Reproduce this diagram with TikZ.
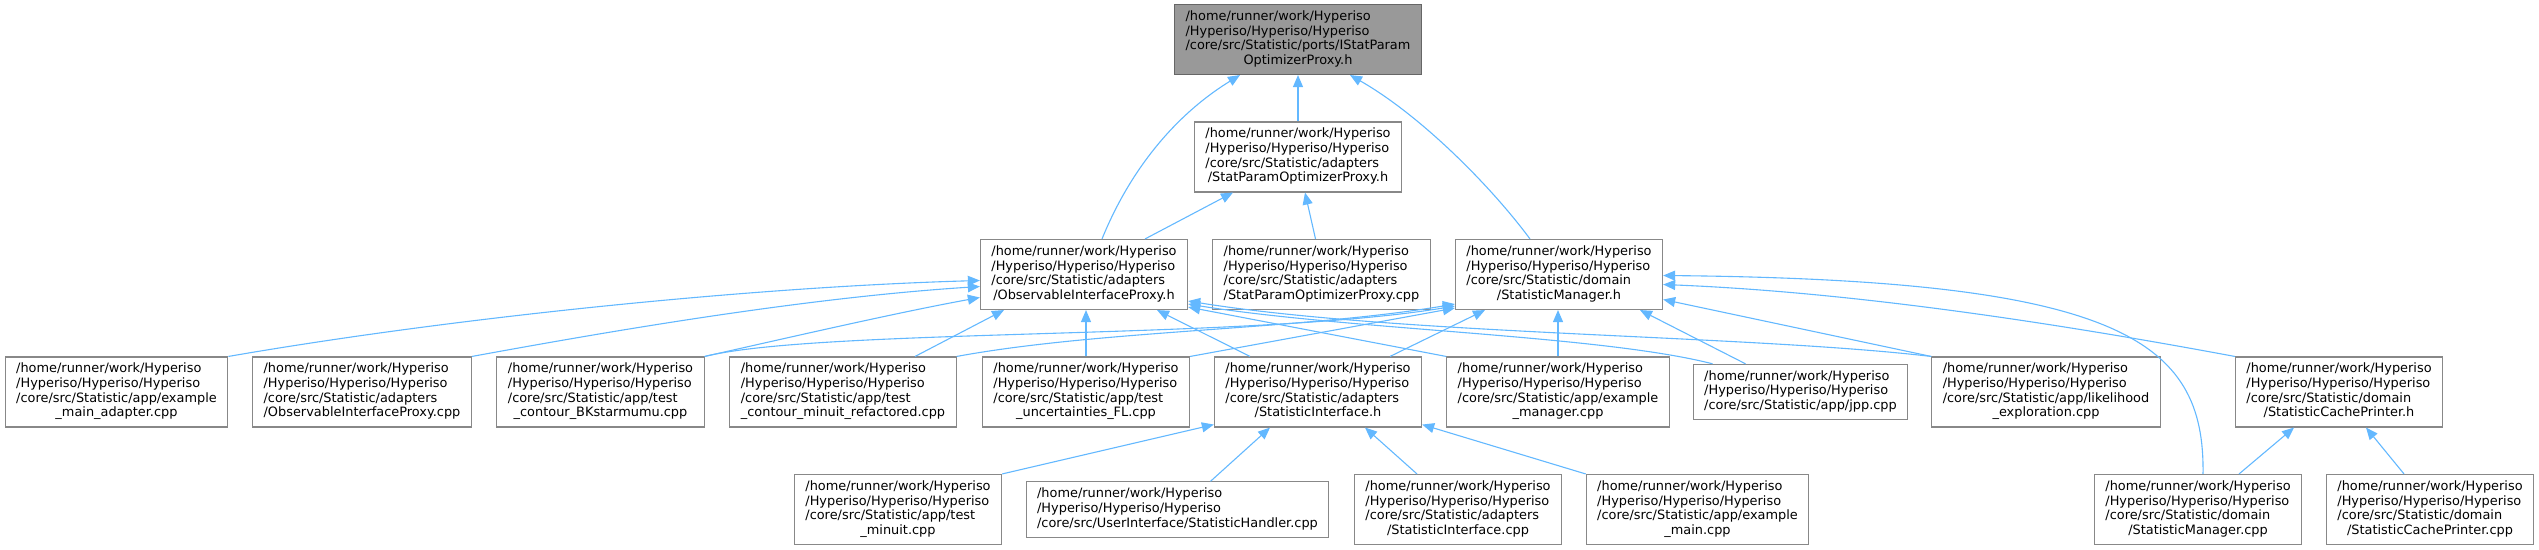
\documentclass[tikz,border=0pt]{standalone}
\usepackage{fontspec}
\setmainfont{DejaVu Sans}
\usepackage{xcolor}
\usetikzlibrary{arrows.meta}
\definecolor{edgeblue}{HTML}{63B8FF}
\definecolor{boxgray}{HTML}{888888}
\definecolor{rootfill}{HTML}{999999}
\definecolor{rootline}{HTML}{666666}

\newcommand{\hpath}[2]{\begin{tabular}{@{}l@{}}/home/runner/work/Hyperiso\\/Hyperiso/Hyperiso/Hyperiso\\#1\\\multicolumn{1}{@{}c@{}}{#2}\end{tabular}}
\newcommand{\hpathshort}[1]{\begin{tabular}{@{}l@{}}/home/runner/work/Hyperiso\\/Hyperiso/Hyperiso/Hyperiso\\#1\end{tabular}}

\begin{document}
\begin{tikzpicture}[x=1pt, y=-1pt,
    filebox/.style={draw=boxgray, fill=white, line width=1.1pt, inner xsep=11pt, inner ysep=5.6pt,
      font=\fontsize{12.9pt}{14.7pt}\selectfont},
    rootbox/.style={filebox, draw=rootline, fill=rootfill},
    incl/.style={draw=edgeblue, line width=1.1pt, -{Triangle[length=12pt,width=10pt]}}]
      \useasboundingbox (0,0) rectangle (2539,549);

      % rank 0 and 1
      \node[rootbox] (top) at (1298,39.5) {\hpath{/core/src/Statistic/ports/IStatParam}{OptimizerProxy.h}};
      \node[filebox] (spoph) at (1298,157) {\hpath{/core/src/Statistic/adapters}{/StatParamOptimizerProxy.h}};

      % rank 2
      \node[filebox] (oiph) at (1084,274.5) {\hpath{/core/src/Statistic/adapters}{/ObservableInterfaceProxy.h}};
      \node[filebox] (spopc) at (1321.5,274.5) {\hpath{/core/src/Statistic/adapters}{/StatParamOptimizerProxy.cpp}};
      \node[filebox] (smh) at (1559,274.5) {\hpath{/core/src/Statistic/domain}{/StatisticManager.h}};

      % rank 3
      \node[filebox] (ema) at (116.5,392) {\hpath{/core/src/Statistic/app/example}{\_main\_adapter.cpp}};
      \node[filebox] (oipc) at (362,392) {\hpath{/core/src/Statistic/adapters}{/ObservableInterfaceProxy.cpp}};
      \node[filebox] (tcb) at (600.5,392) {\hpath{/core/src/Statistic/app/test}{\_contour\_BKstarmumu.cpp}};
      \node[filebox] (tcmr) at (843,392) {\hpath{/core/src/Statistic/app/test}{\_contour\_minuit\_refactored.cpp}};
      \node[filebox] (tuf) at (1086,392) {\hpath{/core/src/Statistic/app/test}{\_uncertainties\_FL.cpp}};
      \node[filebox] (sih) at (1318,392) {\hpath{/core/src/Statistic/adapters}{/StatisticInterface.h}};
      \node[filebox] (emg) at (1558,392) {\hpath{/core/src/Statistic/app/example}{\_manager.cpp}};
      \node[filebox] (jpp) at (1800.5,392) {\hpathshort{/core/src/Statistic/app/jpp.cpp}};
      \node[filebox] (lex) at (2046,392) {\hpath{/core/src/Statistic/app/likelihood}{\_exploration.cpp}};
      \node[filebox] (scph) at (2339,392) {\hpath{/core/src/Statistic/domain}{/StatisticCachePrinter.h}};

      % rank 4
      \node[filebox] (tmin) at (898,509.5) {\hpath{/core/src/Statistic/app/test}{\_minuit.cpp}};
      \node[filebox] (shc) at (1177.5,509.5) {\hpathshort{/core/src/UserInterface/StatisticHandler.cpp}};
      \node[filebox] (sic) at (1458,509.5) {\hpath{/core/src/Statistic/adapters}{/StatisticInterface.cpp}};
      \node[filebox] (emn) at (1697.5,509.5) {\hpath{/core/src/Statistic/app/example}{\_main.cpp}};
      \node[filebox] (smc) at (2198,509.5) {\hpath{/core/src/Statistic/domain}{/StatisticManager.cpp}};
      \node[filebox] (scpc) at (2430,509.5) {\hpath{/core/src/Statistic/domain}{/StatisticCachePrinter.cpp}};

      % includes of the port
      \draw[incl] (spoph.north) -- (top.south);
      \draw[incl] ([xshift=18pt]oiph.north) .. controls (1130,170) and (1175,115) .. ([xshift=-58pt]top.south);
      \draw[incl] ([xshift=-29pt]smh.north) .. controls (1490,185) and (1420,115) .. ([xshift=52pt]top.south);
      \draw[incl] ([xshift=61pt]oiph.north) -- ([xshift=-65pt]spoph.south);
      \draw[incl] ([xshift=-6pt]spopc.north) -- ([xshift=7pt]spoph.south);

      % includes of ObservableInterfaceProxy.h
      \draw[incl] (ema.north east) .. controls (450,318) and (750,287) .. ([yshift=-6pt]oiph.west);
      \draw[incl] (oipc.north east) .. controls (600,333) and (800,298) .. ([yshift=-12pt]oiph.west);
      \draw[incl] (tcb.north east) .. controls (800,335) and (900,312) .. ([yshift=-23pt]oiph.west);
      \draw[incl] ([xshift=72pt]tcmr.north) -- ([xshift=-80pt]oiph.south);
      \draw[incl] (tuf.north) -- (tuf.north |- oiph.south);
      \draw[incl] ([xshift=-68pt]sih.north) -- ([xshift=73pt]oiph.south);
      \draw[incl] (emg.north west) -- ([yshift=3pt]oiph.south east);
      \draw[incl] ([xshift=-88pt]jpp.north) .. controls (1600,335) and (1350,330) .. ([yshift=6pt]oiph.south east);
      \draw[incl] (lex.north west) .. controls (1750,335) and (1400,335) .. ([yshift=9pt]oiph.south east);

      % includes of StatisticManager.h
      \draw[incl] (tcb.north east) .. controls (820,328) and (1250,340) .. ([yshift=4pt]smh.south west);
      \draw[incl] (tcmr.north east) .. controls (1100,330) and (1300,330) .. ([yshift=6pt]smh.south west);
      \draw[incl] (tuf.north east) -- ([yshift=2pt]smh.south west);
      \draw[incl] ([xshift=72pt]sih.north) -- ([xshift=-74pt]smh.south);
      \draw[incl] (emg.north) -- (emg.north |- smh.south);
      \draw[incl] ([xshift=-55pt]jpp.north) -- ([xshift=81pt]smh.south);
      \draw[incl] (lex.north west) -- ([yshift=-25pt]smh.east);
      \draw[incl] (scph.north west) .. controls (2050,322) and (1850,292) .. ([yshift=-10pt]smh.east);
      \draw[incl] ([xshift=5pt]smc.north) .. controls (2205,340) and (2120,280) .. ([yshift=-1pt]smh.east);

      % includes of StatisticInterface.h
      \draw[incl] (tmin.north east) -- ([yshift=3pt]sih.south west);
      \draw[incl] ([xshift=33pt]shc.north) -- ([xshift=-48pt]sih.south);
      \draw[incl] ([xshift=-41pt]sic.north) -- ([xshift=47pt]sih.south);
      \draw[incl] (emn.north west) -- ([yshift=3pt]sih.south east);

      % includes of StatisticCachePrinter.h
      \draw[incl] ([xshift=41pt]smc.north) -- ([xshift=-45pt]scph.south);
      \draw[incl] ([xshift=-26pt]scpc.north) -- ([xshift=27pt]scph.south);

\end{tikzpicture}
\end{document}
